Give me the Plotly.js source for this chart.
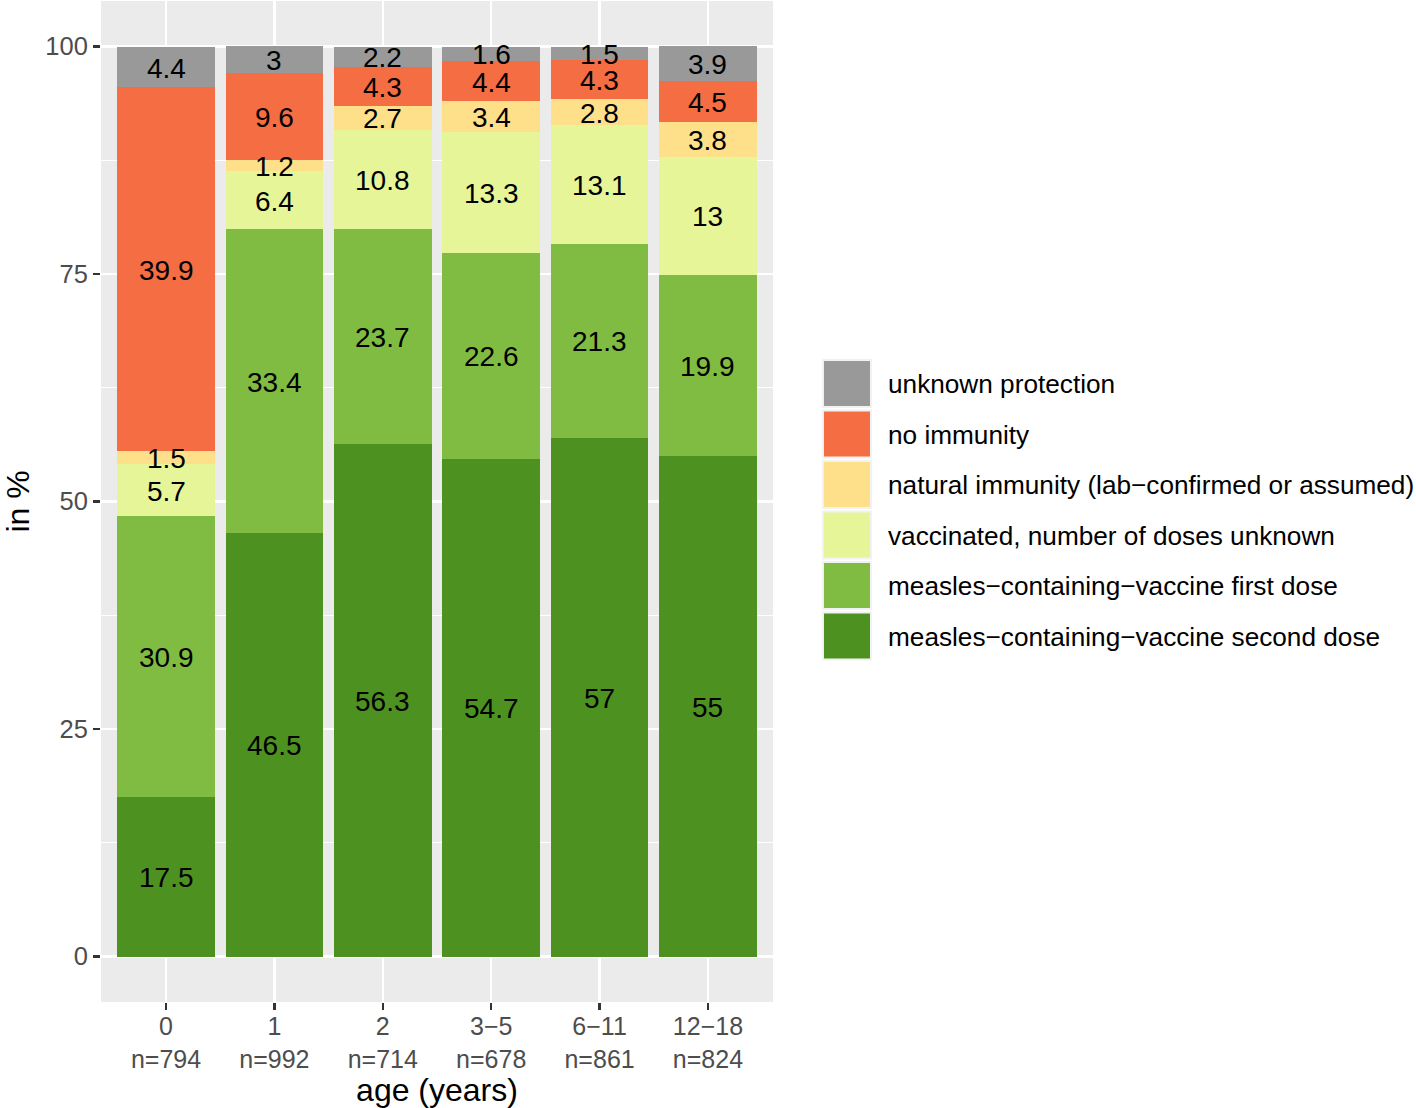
<!DOCTYPE html>
<html>
<head>
<meta charset="utf-8">
<script src="https://cdn.plot.ly/plotly-3.0.1.min.js"></script>
<style>html,body{margin:0;padding:0;background:#fff;}#chart{width:1416px;height:1108px;}</style>
</head>
<body>
<div id="chart"></div>
<script>
// ---- data ----
const categories = ['0', '1', '2', '3\u22125', '6\u221211', '12\u221218'];
const sampleSizes = ['n=794', 'n=992', 'n=714', 'n=678', 'n=861', 'n=824'];

// series from bottom of stack to top
const seriesNames = [
  'measles\u2212containing\u2212vaccine second dose',
  'measles\u2212containing\u2212vaccine first dose',
  'vaccinated, number of doses unknown',
  'natural immunity (lab\u2212confirmed or assumed)',
  'no immunity',
  'unknown protection'
];
const secondDose   = [17.5, 46.5, 56.3, 54.7, 57, 55];
const firstDose    = [30.9, 33.4, 23.7, 22.6, 21.3, 19.9];
const vaccUnknown  = [5.7, 6.4, 10.8, 13.3, 13.1, 13];
const naturalImm   = [1.5, 1.2, 2.7, 3.4, 2.8, 3.8];
const noImmunity   = [39.9, 9.6, 4.3, 4.4, 4.3, 4.5];
const unknownProt  = [4.4, 3, 2.2, 1.6, 1.5, 3.9];
const seriesColors = ['#4D9221', '#7FBC41', '#E6F598', '#FEE08B', '#F46D43', '#999999'];

const yTicks = [0, 25, 50, 75, 100];

// ---- build ----
const seriesValues = [secondDose, firstDose, vaccUnknown, naturalImm, noImmunity, unknownProt];
const FONT = 'Liberation Sans, Arial, Helvetica, sans-serif';

const traces = [];
seriesValues.forEach((vals, i) => {
  traces.push({
    type: 'bar', x: categories, y: vals, name: seriesNames[i],
    width: 0.9, marker: {color: seriesColors[i], line: {width: 0}},
    showlegend: false, hoverinfo: 'x+y+name'
  });
});

const annotations = [];
// value labels at the mid-point of each stacked segment (data coordinates)
const cum = categories.map(() => 0);
seriesValues.forEach(vals => {
  vals.forEach((v, j) => {
    annotations.push({
      xref: 'x', yref: 'y', x: categories[j], y: cum[j] + v / 2,
      text: String(v), showarrow: false, xanchor: 'center', yanchor: 'middle',
      yshift: -1, font: {family: FONT, size: 28, color: '#000'}
    });
    cum[j] += v;
  });
});

// custom legend (layout only)
const L = 101, R = 773, T = 1, B = 1002;
const px = x => (x - L) / (R - L);
const py = y => (B - y) / (B - T);
const shapes = [];
const legendOrder = [5, 4, 3, 2, 1, 0];
legendOrder.forEach((si, row) => {
  const top = 360 + row * 50.5;
  shapes.push({
    type: 'rect', xref: 'paper', yref: 'paper',
    x0: px(823), x1: px(871), y0: py(top + 47), y1: py(top),
    fillcolor: seriesColors[si], line: {color: '#F2F2F2', width: 2}
  });
  annotations.push({
    xref: 'paper', yref: 'paper', x: px(886), y: py(top + 24),
    xanchor: 'left', yanchor: 'middle', showarrow: false,
    text: seriesNames[si], font: {family: FONT, size: 26.2, color: '#000'}
  });
});

const layout = {
  width: 1416, height: 1108,
  margin: {l: L, r: 1416 - R, t: T, b: 1108 - B, pad: 0},
  paper_bgcolor: '#FFFFFF', plot_bgcolor: '#EBEBEB',
  barmode: 'stack', bargap: 0.1,
  showlegend: false,
  font: {family: FONT},
  xaxis: {
    type: 'category', range: [-0.6, 5.6],
    tickvals: categories,
    ticktext: categories.map((c, i) => c + '<br>' + sampleSizes[i]),
    tickfont: {family: FONT, size: 25, color: '#4D4D4D'},
    ticklabelstandoff: -5,
    ticks: 'outside', ticklen: 7, tickwidth: 2.2, tickcolor: '#333333',
    showgrid: true, gridcolor: '#FFFFFF', gridwidth: 2.5,
    zeroline: false, showline: false, automargin: false,
    title: {text: 'age (years)', font: {family: FONT, size: 32, color: '#000'}, standoff: 6}
  },
  yaxis: {
    range: [-5, 105], tickvals: yTicks, ticktext: yTicks.map(String),
    tickfont: {family: FONT, size: 25.5, color: '#4D4D4D'},
    ticks: 'outside', ticklen: 7, tickwidth: 2.2, tickcolor: '#333333',
    showgrid: true, gridcolor: '#FFFFFF', gridwidth: 2.5,
    minor: {tick0: 0, dtick: 12.5, showgrid: true, gridcolor: '#FFFFFF', gridwidth: 1.2, ticks: ''},
    zeroline: false, showline: false, automargin: false,
    title: {text: 'in %', font: {family: FONT, size: 32, color: '#000'}, standoff: 10}
  },
  shapes: shapes,
  annotations: annotations
};

Plotly.newPlot('chart', traces, layout, {displayModeBar: false, staticPlot: true});
</script>
</body>
</html>
